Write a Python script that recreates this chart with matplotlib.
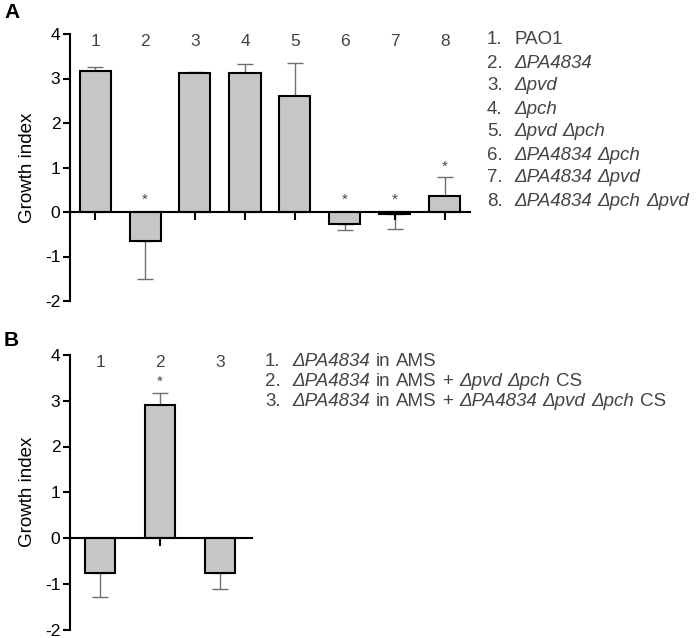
import matplotlib
matplotlib.use("Agg")
import matplotlib.pyplot as plt

plt.rcParams['font.family'] = ['Liberation Sans', 'DejaVu Sans']
plt.rcParams['axes.unicode_minus'] = False

# Panel A data
a_labels = ["1", "2", "3", "4", "5", "6", "7", "8"]
a_values = [3.17, -0.65, 3.12, 3.12, 2.60, -0.28, -0.05, 0.35]
a_errors = [0.08, 0.85, 0.03, 0.20, 0.75, 0.12, 0.33, 0.43]
a_star = [False, True, False, False, False, True, True, True]
# legend entries: list of (word, italic)
a_legend = [
    [("PAO1", False)],
    [("\u0394PA4834", True)],
    [("\u0394pvd", True)],
    [("\u0394pch", True)],
    [("\u0394pvd", True), ("\u0394pch", True)],
    [("\u0394PA4834", True), ("\u0394pch", True)],
    [("\u0394PA4834", True), ("\u0394pvd", True)],
    [("\u0394PA4834", True), ("\u0394pch", True), ("\u0394pvd", True)],
]

# Panel B data
b_labels = ["1", "2", "3"]
b_values = [-0.77, 2.91, -0.77]
b_errors = [0.53, 0.26, 0.35]
b_star = [False, True, False]
b_legend = [
    [("\u0394PA4834", True), ("in", False), ("AMS", False)],
    [("\u0394PA4834", True), ("in", False), ("AMS", False), ("+", False),
     ("\u0394pvd", True), ("\u0394pch", True), ("CS", False)],
    [("\u0394PA4834", True), ("in", False), ("AMS", False), ("+", False),
     ("\u0394PA4834", True), ("\u0394pvd", True), ("\u0394pch", True), ("CS", False)],
]

fig = plt.figure(figsize=(7.0, 6.38), dpi=100)
W, H = 700, 638
renderer = fig.canvas.get_renderer()

BAR_FC = "#c6c6c6"
ERR_C = "#707070"
TXT_C = "#444444"
LEG_FS = 13.5


def rich_line(x_px, y_px, words, fs, color):
    space = 0.31 * fs * 100 / 72.0
    x = x_px
    for w, it in words:
        t = fig.text(x / W, 1 - y_px / H, w, ha='left', va='center', fontsize=fs,
                     color=color, fontstyle='italic' if it else 'normal')
        bb = t.get_window_extent(renderer=renderer)
        x += bb.width + space


def panel(rect, labels, values, errors, stars, width, xmax, legend, leg_x, leg_y, leg_dy, letter, letter_y):
    ax = fig.add_axes(rect)
    xs = list(range(1, len(values) + 1))
    lo = [e if v < 0 else 0 for v, e in zip(values, errors)]
    hi = [e if v >= 0 else 0 for v, e in zip(values, errors)]
    ax.errorbar(xs, values, yerr=[lo, hi], fmt='none', ecolor=ERR_C,
                elinewidth=1.0, capsize=6, capthick=1.0, zorder=1)
    ax.bar(xs, values, width=width, color=BAR_FC, edgecolor='black',
           linewidth=1.5, zorder=2)
    ax.set_xlim(0.5, xmax)
    ax.set_ylim(-2, 4)
    ax.spines['top'].set_visible(False)
    ax.spines['right'].set_visible(False)
    ax.spines['bottom'].set_position(('data', 0))
    ax.spines['left'].set_linewidth(1.5)
    ax.spines['bottom'].set_linewidth(1.5)
    ax.set_xticks(xs)
    ax.set_xticklabels([])
    ax.tick_params(axis='x', direction='out', length=6, width=1.5, zorder=3)
    ax.set_yticks([-2, -1, 0, 1, 2, 3, 4])
    ax.tick_params(axis='y', direction='out', length=5, width=1.5, labelsize=12.5, pad=2)
    ax.set_ylabel("Growth index", fontsize=13.5, labelpad=6)
    ax.patch.set_visible(False)
    for x, lab in zip(xs, labels):
        ax.text(x, 3.84, lab, ha='center', va='center', fontsize=12.5, color=TXT_C)
    for x, v, e, s in zip(xs, values, errors, stars):
        if s:
            y = v + e + 0.24 if v > 0 else 0.27
            ax.text(x, y, "*", ha='center', va='center', fontsize=11, color=TXT_C)
    for i, words in enumerate(legend):
        y = leg_y + i * leg_dy
        fig.text(leg_x / W, 1 - y / H, f"{i + 1}.", ha='left', va='center',
                 fontsize=LEG_FS, color=TXT_C)
        rich_line(leg_x + 27, y, words, LEG_FS, TXT_C)
    fig.text(4 / W, 1 - letter_y / H, letter, ha='left', va='center', fontsize=15,
             fontweight='bold')
    return ax


panel([70 / W, 1 - 301 / H, 400 / W, (301 - 34) / H], a_labels, a_values, a_errors, a_star,
      0.62, 8.5, a_legend, 487, 40, 23, "A", 12)
panel([70 / W, 1 - 629.5 / H, 182 / W, (629.5 - 355) / H], b_labels, b_values, b_errors, b_star,
      0.5, 3.53, b_legend, 265, 362, 19.5, "B", 340)

fig.savefig("out.png", dpi=100)
